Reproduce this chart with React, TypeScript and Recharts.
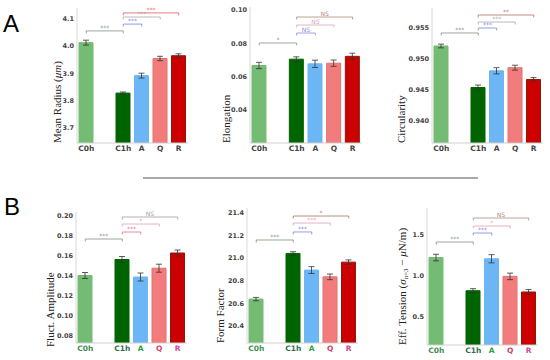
import React from 'react';
import { BarChart, Bar, XAxis, YAxis, Cell, ErrorBar, ReferenceLine } from 'recharts';

// ---- categories & data ----
const CATEGORIES = ['C0h', '', 'C1h', 'A', 'Q', 'R'];
const CATEGORY_POS = [0, 2, 3, 4, 5];
const BAR_FILLS = ['#74bb74', '#006400', '#6cb6f5', '#f27c7c', '#cc0000'];
const BAR_STROKES = ['#74bb74', '#006400', '#6cb6f5', '#e07272', '#8a1a08'];
const BOTTOM_LABEL_COLORS = ['#3f8f4f', '#2f6f4f', '#2f9f3f', '#d0406a', '#d04a8a'];

const radiusValues = [4.013, 3.828, 3.892, 3.955, 3.965];
const radiusErrors = [0.009, 0.004, 0.009, 0.008, 0.007];
const radiusTicks = [3.7, 3.8, 3.9, 4.0, 4.1];

const elongationValues = [0.0667, 0.0705, 0.0677, 0.0681, 0.0722];
const elongationErrors = [0.0019, 0.0014, 0.0022, 0.0019, 0.0019];
const elongationTicks = [0.04, 0.06, 0.08, 0.1];

const circularityValues = [0.9521, 0.9454, 0.9481, 0.9486, 0.9467];
const circularityErrors = [0.0003, 0.0004, 0.0005, 0.0004, 0.0003];
const circularityTicks = [0.94, 0.945, 0.95, 0.955];

const amplitudeValues = [0.1405, 0.1565, 0.139, 0.1478, 0.163];
const amplitudeErrors = [0.003, 0.003, 0.004, 0.004, 0.003];
const amplitudeTicks = [0.08, 0.1, 0.12, 0.14, 0.16, 0.18, 0.2];

const formFactorValues = [20.638, 21.042, 20.895, 20.835, 20.965];
const formFactorErrors = [0.015, 0.015, 0.03, 0.025, 0.02];
const formFactorTicks = [20.4, 20.6, 20.8, 21.0, 21.2, 21.4];

const tensionValues = [1.225, 0.82, 1.21, 0.995, 0.805];
const tensionErrors = [0.04, 0.025, 0.05, 0.04, 0.03];
const tensionTicks = [0.5, 1.0, 1.5];

// significance brackets: [fromCategoryIndex, toCategoryIndex, level, text, color]
type Bracket = [number, number, number, string, string];
const radiusBrackets: Bracket[] = [
  [0, 2, 4.056, '***', '#7d937d'],
  [2, 3, 4.081, '***', '#7b84d8'],
  [2, 4, 4.107, '***', '#a8a8a8'],
  [2, 5, 4.122, '***', '#e05a5a'],
];
const elongationBrackets: Bracket[] = [
  [0, 2, 0.0802, '*', '#7d937d'],
  [2, 3, 0.0862, 'NS', '#8a8ae0'],
  [2, 4, 0.091, 'NS', '#e0a0b0'],
  [2, 5, 0.0958, 'NS', '#b08a7a'],
];
const circularityBrackets: Bracket[] = [
  [0, 2, 0.9542, '***', '#7d937d'],
  [2, 3, 0.955, '***', '#7b84d8'],
  [2, 4, 0.95597, '***', '#a8a8a8'],
  [2, 5, 0.9571, '**', '#b07060'],
];
const amplitudeBrackets: Bracket[] = [
  [0, 2, 0.177, '***', '#7d937d'],
  [2, 3, 0.184, '***', '#e07090'],
  [2, 4, 0.192, '*', '#e0a0b0'],
  [2, 5, 0.199, 'NS', '#a89a9a'],
];
const formFactorBrackets: Bracket[] = [
  [0, 2, 21.161, '***', '#7d937d'],
  [2, 3, 21.232, '***', '#7b84d8'],
  [2, 4, 21.311, '***', '#e0a0b0'],
  [2, 5, 21.373, '*', '#b07060'],
];
const tensionBrackets: Bracket[] = [
  [0, 2, 1.414, '***', '#7d937d'],
  [2, 3, 1.524, '***', '#7b84d8'],
  [2, 4, 1.609, '*', '#e0a0b0'],
  [2, 5, 1.707, 'NS', '#b08a7a'],
];

type PanelProps = {
  values: number[];
  errors: number[];
  ticks: number[];
  domain: [number, number];
  decimals: number;
  brackets: Bracket[];
  plotL: number; plotR: number; plotT: number; plotB: number;
  rowTop: number; rowH: number;
  coloredLabels?: boolean;
};

const bracketShape = (p: any) => (
  <path
    d={`M${p.x1},${p.y1 + 2.5}V${p.y1}H${p.x2}V${p.y2 + 2.5}`}
    stroke={p.stroke}
    strokeWidth={0.8}
    fill="none"
  />
);

function Panel(props: PanelProps) {
  const { values, errors, ticks, domain, decimals, brackets, plotL, plotR, plotT, plotB, rowTop, rowH, coloredLabels } = props;
  const yAxisW = 40;
  const xAxisH = 14;
  const cx = plotL - yAxisW;
  const cw = plotR - cx + 6;
  const data = values.map((v, i) => ({ x: CATEGORY_POS[i], v, e: errors[i] }));
  const mTop = plotT - rowTop;
  const mBottom = rowTop + rowH - plotB - xAxisH;
  const renderTick = (tp: any) => {
    const idx = CATEGORY_POS.indexOf(tp.payload.value);
    return (
      <text
        x={tp.x}
        y={tp.y}
        dy="0.71em"
        textAnchor="middle"
        fontSize={7.5}
        fontWeight="bold"
        fontFamily="'DejaVu Sans', sans-serif"
        fill={coloredLabels ? BOTTOM_LABEL_COLORS[idx] : '#444'}
      >
        {CATEGORIES[tp.payload.value]}
      </text>
    );
  };
  return (
    <div style={{ position: 'absolute', left: cx, top: rowTop }}>
      <BarChart width={cw} height={rowH} data={data} margin={{ top: mTop, right: 6, bottom: mBottom, left: 0 }}>
        <XAxis
          dataKey="x"
          type="number"
          domain={[-0.5, 5.5]}
          ticks={CATEGORY_POS}
          interval={0}
          height={xAxisH}
          tickLine={false}
          tickSize={0}
          tickMargin={3}
          axisLine={{ stroke: '#cfcfcf' }}
          tick={renderTick}
        />
        <YAxis
          type="number"
          domain={domain}
          allowDataOverflow
          ticks={ticks}
          width={yAxisW}
          tickLine={false}
          tickSize={0}
          tickMargin={3}
          axisLine={{ stroke: '#d8d8d8' }}
          tick={{ fontSize: 6.5, fill: '#444', fontFamily: "'DejaVu Sans', sans-serif", fontWeight: 'bold' }}
          tickFormatter={(t: number) => t.toFixed(decimals)}
        />
        <Bar dataKey="v" barSize={14} isAnimationActive={false}>
          {data.map((d, i) => (
            <Cell key={i} fill={BAR_FILLS[i]} stroke={BAR_STROKES[i]} strokeWidth={1} />
          ))}
          <ErrorBar dataKey="e" direction="y" width={3} stroke="#333" strokeWidth={0.8} />
        </Bar>
        {brackets.map(([from, to, level, text, color], i) => (
          <ReferenceLine
            key={i}
            segment={[{ x: from, y: level }, { x: to, y: level }]}
            stroke={color}
            shape={bracketShape}
            ifOverflow="visible"
            label={{ value: text, position: 'top', fill: color, fontSize: 6, offset: 1, fontFamily: "'DejaVu Sans', sans-serif" }}
          />
        ))}
      </BarChart>
    </div>
  );
}

export default function App() {
  return (
    <div style={{ position: 'absolute', left: 0, top: 0, width: 550, height: 360, background: '#fff', fontFamily: 'serif' }}>
      <Panel values={radiusValues} errors={radiusErrors} ticks={radiusTicks} domain={[3.645, 4.14]} decimals={1}
        brackets={radiusBrackets} plotL={77} plotR={188} plotT={8} plotB={143} rowTop={0} rowH={165} />
      <Panel values={elongationValues} errors={elongationErrors} ticks={elongationTicks} domain={[0.0202, 0.1018]} decimals={2}
        brackets={elongationBrackets} plotL={250} plotR={362} plotT={7} plotB={143} rowTop={0} rowH={165} />
      <Panel values={circularityValues} errors={circularityErrors} ticks={circularityTicks} domain={[0.93645, 0.95823]} decimals={3}
        brackets={circularityBrackets} plotL={432} plotR={543} plotT={8} plotB={143} rowTop={0} rowH={165} />
      <Panel values={amplitudeValues} errors={amplitudeErrors} ticks={amplitudeTicks} domain={[0.073, 0.204]} decimals={2}
        brackets={amplitudeBrackets} plotL={76} plotR={187} plotT={212} plotB={343} rowTop={180} rowH={180} coloredLabels />
      <Panel values={formFactorValues} errors={formFactorErrors} ticks={formFactorTicks} domain={[20.2496, 21.444]} decimals={1}
        brackets={formFactorBrackets} plotL={247} plotR={358} plotT={208} plotB={343} rowTop={180} rowH={180} coloredLabels />
      <Panel values={tensionValues} errors={tensionErrors} ticks={tensionTicks} domain={[0.1585, 1.829]} decimals={1}
        brackets={tensionBrackets} plotL={427} plotR={538} plotT={208} plotB={345} rowTop={180} rowH={180} coloredLabels />
      <svg width={550} height={360} style={{ position: 'absolute', left: 0, top: 0, pointerEvents: 'none' }}>
        <text x={3} y={32} fontSize={24} fontFamily="'Liberation Sans', Arial, sans-serif" fill="#000">A</text>
        <text x={4} y={215} fontSize={24} fontFamily="'Liberation Sans', Arial, sans-serif" fill="#000">B</text>
        <line x1={143} y1={178} x2={478} y2={178} stroke="#8c8c8c" strokeWidth={1.5} />
        <g fontFamily="'Liberation Serif', 'DejaVu Serif', serif" fontSize={11} fill="#222">
          <text transform="translate(61,143) rotate(-90)">Mean Radius (<tspan fontStyle="italic">μm</tspan>)</text>
          <text transform="translate(230,143) rotate(-90)">Elongation</text>
          <text transform="translate(405,143) rotate(-90)">Circularity</text>
          <text transform="translate(54,347) rotate(-90)">Fluct. Amplitude</text>
          <text transform="translate(224,343) rotate(-90)">Form Factor</text>
          <text transform="translate(406,345) rotate(-90)">Eff. Tension (<tspan fontStyle="italic">σ</tspan><tspan fontSize={7} dy={2}>n=3</tspan><tspan dy={-2}> − </tspan><tspan fontStyle="italic">μ</tspan>N/m)</text>
        </g>
      </svg>
    </div>
  );
}
